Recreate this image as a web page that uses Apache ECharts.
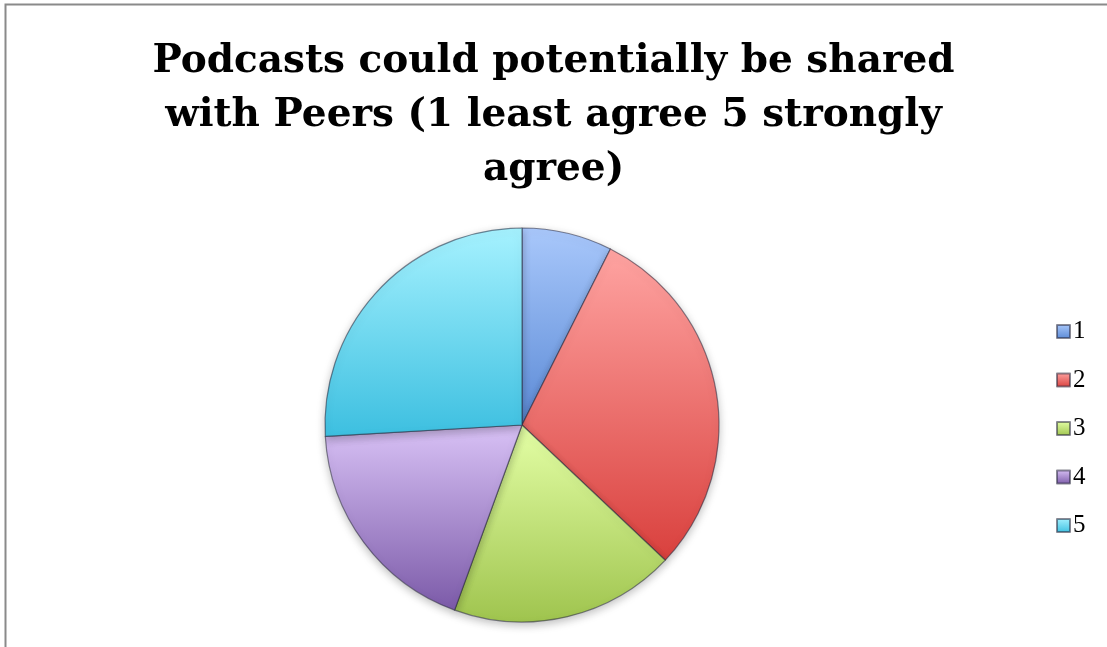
<!DOCTYPE html>
<html>
<head>
<meta charset="utf-8">
<script src="https://cdn.jsdelivr.net/npm/echarts@6/dist/echarts.min.js"></script>
<style>
html,body{margin:0;padding:0;background:#fff;}
#c{width:1107px;height:647px;}
</style>
</head>
<body>
<div id="c"></div>
<script>
var titleText = 'Podcasts could potentially be shared\nwith Peers (1 least agree 5 strongly\nagree)';
var categories = ['1', '2', '3', '4', '5'];
var values = [2, 8, 5, 5, 7];
var topColors = ['#a9c8fb', '#ffa4a2', '#e4ffa6', '#d9c2f6', '#a6f2ff'];
var bottomColors = ['#5b8ad6', '#d9403d', '#9fc44e', '#7b5aa8', '#3cbfe0'];

var chart = echarts.init(document.getElementById('c'));
var data = categories.map(function (c, i) {
  return {
    name: c,
    value: values[i],
    itemStyle: {
      color: {
        type: 'linear', x: 0, y: 0, x2: 0, y2: 1,
        colorStops: [
          {offset: 0, color: topColors[i]},
          {offset: 1, color: bottomColors[i]}
        ]
      }
    }
  };
});
chart.setOption({
  backgroundColor: '#fff',
  animation: false,
  title: {
    text: titleText,
    left: 'center',
    top: 30,
    textStyle: {
      fontFamily: 'DejaVu Serif',
      fontWeight: 'bold',
      fontSize: 39,
      lineHeight: 54,
      color: '#000'
    }
  },
  legend: {
    orient: 'vertical',
    left: 1051,
    top: 314,
    itemWidth: 13,
    itemHeight: 13,
    itemGap: 23.5,
    icon: 'rect',
    textStyle: {fontFamily: 'Liberation Serif', fontSize: 25, lineHeight: 24, color: '#000', padding: [0, 0, 0, -2]},
    data: categories
  },
  graphic: [{
    type: 'rect',
    shape: {x: 5.5, y: 4.5, width: 1200, height: 700},
    style: {fill: 'none', stroke: '#8a8a8a', lineWidth: 2},
    silent: true
  }],
  series: [{
    type: 'pie',
    center: [522, 425],
    radius: 197,
    startAngle: 90,
    clockwise: true,
    label: {show: false},
    labelLine: {show: false},
    emphasis: {disabled: true},
    itemStyle: {
      borderColor: 'rgba(40,40,60,0.55)',
      borderWidth: 1.2,
      shadowBlur: 8,
      shadowOffsetY: 3,
      shadowColor: 'rgba(0,0,0,0.25)'
    },
    data: data
  }]
});
</script>
</body>
</html>
